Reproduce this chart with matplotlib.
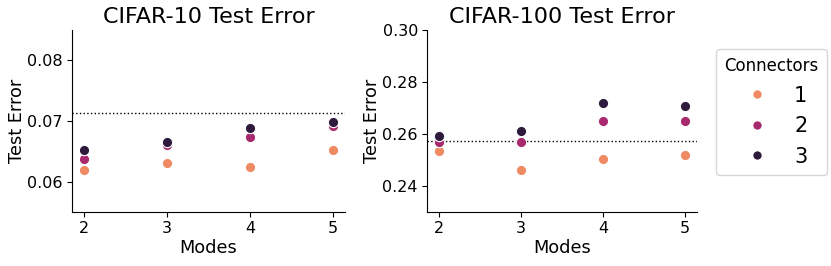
import matplotlib
matplotlib.use("Agg")
import matplotlib.pyplot as plt
from matplotlib.lines import Line2D

modes = [2, 3, 4, 5]
connectors = ["1", "2", "3"]
colors = ["#ef8a62", "#a8296e", "#2d1a3d"]

c10_1 = [0.0620, 0.0630, 0.0625, 0.0652]
c10_2 = [0.0637, 0.0660, 0.0673, 0.0692]
c10_3 = [0.0652, 0.0666, 0.0688, 0.0698]
c10_baseline = 0.0713

c100_1 = [0.2536, 0.2463, 0.2505, 0.2521]
c100_2 = [0.2568, 0.2569, 0.2651, 0.2651]
c100_3 = [0.2591, 0.2610, 0.2718, 0.2709]
c100_baseline = 0.2573

fig = plt.figure(figsize=(8.31, 2.66), dpi=100)
ax1 = fig.add_axes([72/831, 54/266, 273/831, 182/266])
ax2 = fig.add_axes([427/831, 54/266, 270/831, 182/266])

def draw(ax, series, base, title, ylim, yticks):
    for vals, c, lab in zip(series, colors, connectors):
        ax.scatter(modes, vals, s=55, color=c, edgecolor="white", linewidth=0.8, zorder=3, label=lab)
    ax.axhline(base, color="black", linestyle=":", linewidth=1.0, zorder=1)
    ax.set_title(title, fontsize=16, pad=5)
    ax.set_xlabel("Modes", fontsize=12.8, labelpad=2)
    ax.set_ylabel("Test Error", fontsize=12.8, labelpad=1)
    ax.set_xticks(modes)
    ax.set_xlim(1.85, 5.15)
    ax.set_ylim(*ylim)
    ax.set_yticks(yticks)
    ax.tick_params(labelsize=11.5, pad=3)
    for s in ["top", "right"]:
        ax.spines[s].set_visible(False)

draw(ax1, [c10_1, c10_2, c10_3], c10_baseline, "CIFAR-10 Test Error", (0.055, 0.085), [0.06, 0.07, 0.08])
draw(ax2, [c100_1, c100_2, c100_3], c100_baseline, "CIFAR-100 Test Error", (0.23, 0.30), [0.24, 0.26, 0.28, 0.30])
ax1.set_yticklabels(["0.06", "0.07", "0.08"])
ax2.set_yticklabels(["0.24", "0.26", "0.28", "0.30"])

handles = [Line2D([], [], marker="o", linestyle="", color=c, markeredgecolor="white", markersize=7) for c in colors]
leg = fig.legend(handles, connectors, title="Connectors", loc="upper left",
                 bbox_to_anchor=(716/831, 1 - 49/266), borderaxespad=0, fontsize=15, title_fontsize=12,
                 frameon=True, markerscale=1.0)
leg.get_frame().set_edgecolor("#cccccc")

fig.savefig("out.png", dpi=100)
